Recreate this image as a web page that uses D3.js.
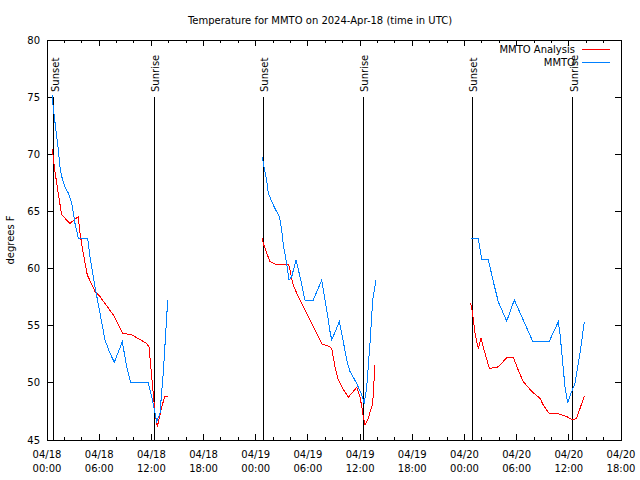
<!DOCTYPE html>
<html><head><meta charset="utf-8">
<script src="https://cdn.jsdelivr.net/npm/d3@7/dist/d3.min.js"></script>
<style>
html,body{margin:0;padding:0;background:#fff;}
text{font-family:"DejaVu Sans",sans-serif;font-size:10px;fill:#000;}
</style></head>
<body>
<svg id="c" width="640" height="480"></svg>
<script>
// ---- data (hours after 2024-04-18 00:00 UTC, temperatures in degrees F) ----
const obsHours1 = [0.61,0.72,0.84,1.12,1.30,1.49,1.69,2.07,2.45,2.84,3.22,3.60,4.68,4.94,5.52,6.09,6.67,7.24,7.74,8.66,9.16,9.62,11.65,12.04,12.42,12.61,12.99,13.37,13.88];
const obsTemps1 = [75.2,74.05,73.3,71.55,70.4,68.9,68.05,67.15,66.6,65.7,63.95,62.65,62.65,61.05,58.4,56.1,53.75,52.6,51.8,53.6,51.4,50.0,50.0,48.8,47.35,46.6,47.35,50.85,57.25];
const obsHours2 = [24.76,24.87,25.26,25.45,25.84,26.22,26.71,26.99,27.17,27.56,27.83,28.14,28.63,29.09,29.66,30.62,31.59,32.16,32.54,32.74,33.61,33.89,34.46,34.84,35.61,36.18,36.48,36.76,37.14,37.45,37.83];
const obsTemps2 = [69.8,69.2,67.75,66.6,65.85,65.25,64.55,63.4,62.05,60.45,59.0,59.3,60.75,59.3,57.25,57.25,59.0,56.4,54.5,53.75,55.35,54.35,52.0,51.0,49.95,48.95,48.2,49.65,53.45,57.25,59.0];
const obsHours3 = [48.72,49.59,49.98,50.74,51.32,51.89,52.86,53.73,54.58,55.84,57.76,58.79,58.98,59.56,59.87,60.33,60.71,61.29,61.78];
const obsTemps3 = [62.65,62.65,60.8,60.8,58.85,57.1,55.4,57.25,55.8,53.65,53.65,55.35,54.35,49.65,48.25,49.25,49.95,52.6,55.35];

const anaHours1 = [0.61,0.84,1.12,1.41,1.69,2.64,3.34,3.60,3.79,4.17,4.63,5.52,6.09,7.62,8.70,9.74,11.46,11.73,12.04,12.42,12.68,13.19,13.57,13.88];
const anaTemps1 = [70.5,68.9,67.45,66.0,64.7,63.95,64.4,64.5,63.1,61.35,59.45,58.0,57.55,55.95,54.35,54.2,53.45,53.15,50.55,47.35,46.15,47.9,48.85,48.85];
const anaHours2 = [24.76,24.87,25.26,25.64,26.22,27.75,27.94,28.25,28.71,29.28,29.86,30.82,31.62,32.54,32.74,33.12,33.5,33.89,34.65,35.61,35.99,36.26,36.37,36.56,36.94,37.45,37.71];
const anaTemps2 = [62.65,62.2,61.35,60.6,60.4,60.4,59.9,58.7,57.85,56.95,56.1,54.65,53.4,53.15,53.0,51.4,50.25,49.65,48.75,49.6,48.8,47.6,47.05,46.3,46.9,48.2,51.55];
const anaHours3 = [48.72,48.91,49.21,49.59,49.9,50.36,50.86,51.89,52.86,53.62,54.19,54.77,55.73,56.69,57.07,57.76,58.6,59.76,60.44,60.9,61.78];
const anaTemps3 = [56.95,56.25,54.35,53.0,53.9,52.6,51.25,51.4,52.2,52.25,51.1,50.1,49.25,48.65,48.05,47.3,47.35,47.05,46.75,46.9,48.85];

const sunsetHours = [0.80, 24.87, 48.92];
const sunriseHours = [12.34, 36.37, 60.44];
const yTicks = [45,50,55,60,65,70,75,80];
const seriesNames = ["MMTO Analysis","MMTO"];
const seriesColors = ["#ff0000","#0080ff"];
const titleText = "Temperature for MMTO on 2024-Apr-18 (time in UTC)";
const yLabelText = "degrees F";

// ---- chart ----
const t0 = Date.UTC(2024,3,18,0,0);
const toDate = h => new Date(t0 + h*3600e3);
const L = 47, R = 621, T = 40, B = 440;
const svg = d3.select("#c");
const x = d3.scaleUtc().domain([toDate(0), toDate(66)]).range([L, R]);
const y = d3.scaleLinear().domain([45, 80]).range([B, T]);

// title
svg.append("text").attr("x", 320).attr("y", 24).attr("text-anchor","middle").text(titleText);
// y label
svg.append("text").attr("transform","translate(14,240) rotate(-90)").attr("text-anchor","middle").text(yLabelText);

const g = svg.append("g").attr("shape-rendering","crispEdges");

// ticks
const majorX = d3.utcHour.every(6).range(toDate(0), toDate(66.01));
const minorX = d3.utcHour.every(2).range(toDate(0), toDate(66.01));
minorX.forEach(d => {
  const major = d.getUTCHours() % 6 === 0;
  const len = major ? 6 : 3;
  g.append("line").attr("x1", x(d)).attr("x2", x(d)).attr("y1", B).attr("y2", B-len).attr("stroke","#000");
  g.append("line").attr("x1", x(d)).attr("x2", x(d)).attr("y1", T).attr("y2", T+len).attr("stroke","#000");
});
const fmtDay = d3.utcFormat("%m/%d"), fmtTime = d3.utcFormat("%H:%M");
majorX.forEach(d => {
  const t = svg.append("text").attr("x", x(d)).attr("text-anchor","middle");
  t.append("tspan").attr("x", x(d)).attr("y", 458).text(fmtDay(d));
  t.append("tspan").attr("x", x(d)).attr("y", 472).text(fmtTime(d));
});
yTicks.forEach(v => {
  g.append("line").attr("x1", L).attr("x2", L+6).attr("y1", y(v)).attr("y2", y(v)).attr("stroke","#000");
  g.append("line").attr("x1", R).attr("x2", R-6).attr("y1", y(v)).attr("y2", y(v)).attr("stroke","#000");
  svg.append("text").attr("x", 40).attr("y", y(v)+3.6).attr("text-anchor","end").text(v);
});

// sunset / sunrise markers
const marks = sunsetHours.map(h => ({h, label:"Sunset"})).concat(sunriseHours.map(h => ({h, label:"Sunrise"})));
marks.forEach(m => {
  const px = x(toDate(m.h));
  g.append("line").attr("x1", px).attr("x2", px).attr("y1", 97).attr("y2", B).attr("stroke","#000");
  svg.append("text").attr("transform", `translate(${px+5},92) rotate(-90)`).attr("text-anchor","start").text(m.label);
});

// data lines
const line = d3.line().x(d => x(toDate(d[0]))).y(d => y(d[1]));
const zipS = (a,b) => a.map((h,i) => [h, b[i]]);
const anaSegs = [zipS(anaHours1,anaTemps1), zipS(anaHours2,anaTemps2), zipS(anaHours3,anaTemps3)];
const obsSegs = [zipS(obsHours1,obsTemps1), zipS(obsHours2,obsTemps2), zipS(obsHours3,obsTemps3)];
const dg = svg.append("g").attr("shape-rendering","crispEdges");
anaSegs.forEach(s => dg.append("path").attr("d", line(s)).attr("fill","none").attr("stroke", seriesColors[0]).attr("stroke-width",1));
obsSegs.forEach(s => dg.append("path").attr("d", line(s)).attr("fill","none").attr("stroke", seriesColors[1]).attr("stroke-width",1));

// border
g.append("rect").attr("x", L).attr("y", T).attr("width", R-L).attr("height", B-T).attr("fill","none").attr("stroke","#000");

// legend
seriesNames.forEach((n,i) => {
  const ly = 49 + i*13;
  svg.append("text").attr("x", 575).attr("y", ly+3.5).attr("text-anchor","end").text(n);
  g.append("line").attr("x1", 582).attr("x2", 610).attr("y1", ly).attr("y2", ly).attr("stroke", seriesColors[i]);
});
</script>
</body></html>
